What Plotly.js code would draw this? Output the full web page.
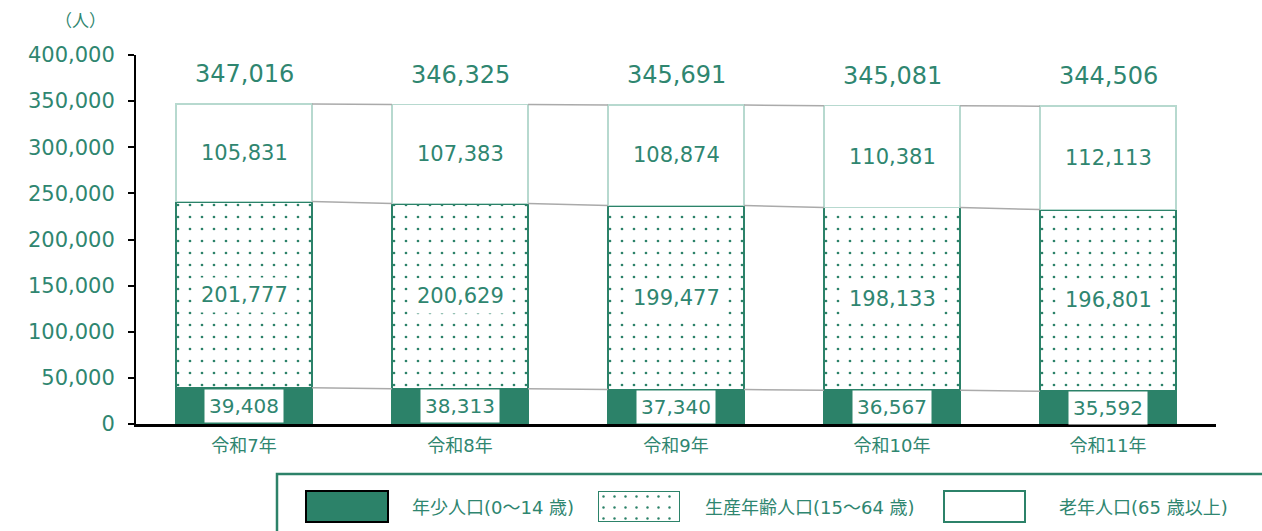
<!DOCTYPE html>
<html><head><meta charset="utf-8">
<script src="https://cdn.plot.ly/plotly-3.0.1.min.js"></script>
<style>html,body{margin:0;padding:0;background:#fff}#c{width:1262px;height:531px}</style>
</head><body><div id="c"></div>
<script>
const categories = ['令和7年','令和8年','令和9年','令和10年','令和11年'];
const young = [39408, 38313, 37340, 36567, 35592];
const working = [201777, 200629, 199477, 198133, 196801];
const elderly = [105831, 107383, 108874, 110381, 112113];
const seriesNames = ['年少人口(0～14 歳)', '生産年齢人口(15～64 歳)', '老年人口(65 歳以上)'];
const yTicks = [0, 50000, 100000, 150000, 200000, 250000, 300000, 350000, 400000];
const unitLabel = '（人）';

const W = 1262, H = 531;
const GREEN = '#2c8269', TXT = '#2f8670', LIGHT = '#b7d9cf', GREY = '#aaaaaa';
const FONT = '"DejaVu Sans", "Noto Sans CJK JP", sans-serif';
const CJK = '"Noto Sans CJK JP", sans-serif';
const BW = 0.63;
const fmt = v => v.toLocaleString('en-US');
const px = (x) => x / W, py = (y) => 1 - y / H;

const totals = young.map((v, i) => v + working[i] + elderly[i]);
const xs = categories.map((_, i) => i);
const pattern = {shape: '.', fgcolor: GREEN, bgcolor: '#ffffff', size: 12, solidity: 0.04, fillmode: 'replace'};

const traces = [
  {type: 'bar', x: xs, y: young, width: BW, name: seriesNames[0],
   marker: {color: GREEN, line: {color: GREEN, width: 1}}, hoverinfo: 'none'},
  {type: 'bar', x: xs, y: working, width: BW, name: seriesNames[1],
   marker: {color: '#ffffff', pattern: pattern, line: {color: GREEN, width: 2}}, hoverinfo: 'none'},
  {type: 'bar', x: xs, y: elderly, width: BW, name: seriesNames[2],
   marker: {color: '#ffffff', line: {color: LIGHT, width: 1.5}}, hoverinfo: 'none'}
];

// connector lines between bars
const levels = [young, young.map((v, i) => v + working[i]), totals];
levels.forEach(lv => {
  const cx = [], cy = [];
  for (let i = 0; i < lv.length - 1; i++) {
    cx.push(i + BW / 2, i + 1 - BW / 2, null);
    cy.push(lv[i], lv[i + 1], null);
  }
  traces.push({type: 'scatter', mode: 'lines', x: cx, y: cy, line: {color: GREY, width: 1.5},
    hoverinfo: 'none', showlegend: false});
});

// legend swatch for dotted pattern on its own axes
traces.push({type: 'bar', x: [0], y: [1], width: [1], xaxis: 'x2', yaxis: 'y2',
  marker: {color: '#ffffff', pattern: Object.assign({}, pattern, {size: 11}), line: {color: GREEN, width: 2}},
  hoverinfo: 'none', showlegend: false});

const ann = [];
xs.forEach(i => {
  ann.push({x: i, y: totals[i], text: fmt(totals[i]), showarrow: false, yanchor: 'middle', yshift: 30,
    font: {size: 24, color: TXT, family: FONT}});
  ann.push({x: i, y: young[i] + working[i] + elderly[i] / 2, text: fmt(elderly[i]), showarrow: false,
    font: {size: 21, color: TXT, family: FONT}});
  ann.push({x: i, y: young[i] + working[i] / 2, text: fmt(working[i]), showarrow: false,
    bgcolor: '#ffffff', borderpad: 5, font: {size: 21, color: TXT, family: FONT}});
  ann.push({x: i, y: young[i] / 2, text: fmt(young[i]), showarrow: false,
    bgcolor: '#ffffff', borderpad: 4, font: {size: 20, color: TXT, family: FONT}});
});
ann.push({xref: 'paper', yref: 'paper', x: px(80), y: py(20), xanchor: 'center', yanchor: 'middle',
  text: unitLabel, showarrow: false, font: {size: 17, color: TXT, family: CJK}});
const legX = [410, 703, 1057];
legX.forEach((lx, k) => ann.push({xref: 'paper', yref: 'paper', x: px(lx), y: py(507), xanchor: 'left', yanchor: 'middle',
  text: seriesNames[k], showarrow: false, font: {size: 18, color: TXT, family: FONT}}));

const shapes = [
  {type: 'path', xref: 'paper', yref: 'paper',
   path: `M ${px(1262)} ${py(474)} L ${px(277)} ${py(474)} L ${px(277)} ${py(540)}`,
   line: {color: GREEN, width: 2.5}},
  {type: 'rect', xref: 'paper', yref: 'paper', x0: px(306), x1: px(388), y0: py(522), y1: py(491),
   fillcolor: GREEN, line: {color: '#000000', width: 2}},
  {type: 'rect', xref: 'paper', yref: 'paper', x0: px(944), x1: px(1025), y0: py(522), y1: py(491),
   fillcolor: '#ffffff', line: {color: GREEN, width: 2}}
];

const layout = {
  width: W, height: H, margin: {l: 0, r: 0, t: 0, b: 0},
  paper_bgcolor: '#ffffff', plot_bgcolor: 'rgba(0,0,0,0)',
  barmode: 'stack', showlegend: false, font: {family: FONT, color: TXT},
  xaxis: {domain: [px(136), px(1216)], range: [-0.5, 4.5], tickvals: xs, ticktext: categories,
    showgrid: false, zeroline: false, showline: true, linecolor: '#000000', linewidth: 2.5,
    ticks: '', tickfont: {size: 18, color: TXT, family: FONT}, ticklabelstandoff: 4, fixedrange: true},
  yaxis: {domain: [py(424), py(55)], range: [0, 400000], tickvals: yTicks, ticktext: yTicks.map(fmt),
    showgrid: false, zeroline: false, showline: true, linecolor: '#000000', linewidth: 2,
    ticks: 'outside', ticklen: 6, tickwidth: 2, tickcolor: '#000000',
    tickfont: {size: 21, color: TXT, family: FONT}, ticklabelstandoff: 9, fixedrange: true},
  xaxis2: {domain: [px(598), px(680)], range: [-0.5, 0.5], visible: false, anchor: 'y2', fixedrange: true},
  yaxis2: {domain: [py(522), py(491)], range: [0, 1], visible: false, anchor: 'x2', fixedrange: true},
  annotations: ann, shapes: shapes, bargap: 0
};

Plotly.newPlot('c', traces, layout, {displayModeBar: false, staticPlot: true});
</script></body></html>
